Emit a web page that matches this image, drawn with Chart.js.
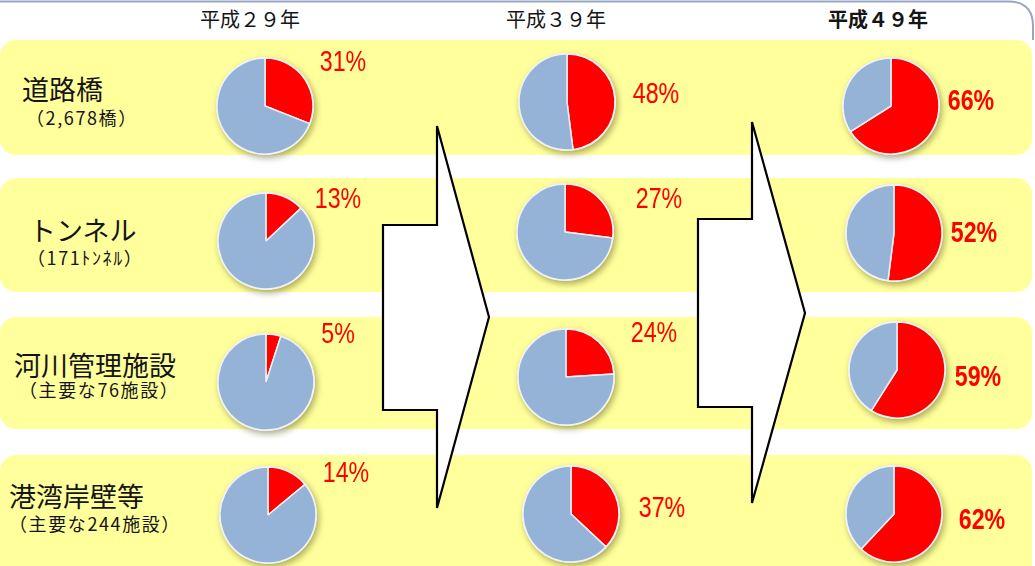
<!DOCTYPE html>
<html lang="ja">
<head>
<meta charset="utf-8">
<title>老朽化施設の割合</title>
<script src="https://cdn.jsdelivr.net/npm/chart.js@4.4.1/dist/chart.umd.min.js"></script>
<style>
    html, body { margin: 0; padding: 0; background: #fff; }
    #stage {
        position: relative;
        width: 1035px;
        height: 566px;
        overflow: hidden;
        font-family: "Noto Sans CJK JP", sans-serif;
        color: #151515;
    }
    #backdrop { position: absolute; left: 0; top: 0; }
    .pie { position: absolute; width: 124px; height: 124px; }
    .heading {
        position: absolute;
        font-size: 20px;
        line-height: 1;
        white-space: nowrap;
        transform: translate(-50%, -50%);
    }
    .heading.bold { font-weight: bold; }
    .category {
        position: absolute;
        font-size: 27px;
        line-height: 1;
        white-space: nowrap;
        transform: translateY(-50%);
    }
    .note {
        position: absolute;
        font-size: 18px;
        letter-spacing: 1.6px;
        line-height: 1;
        white-space: nowrap;
        transform: translateY(-50%);
    }
    .pct {
        position: absolute;
        color: #ff0000;
        font-family: "Liberation Sans", Arial, sans-serif;
        font-size: 29px;
        line-height: 1;
        white-space: nowrap;
        transform: translate(-50%, -50%) scaleX(0.8);
    }
    .pct.bold { font-weight: bold; }
</style>
</head>
<body>
<div id="stage">
    <svg id="backdrop" width="1035" height="566"></svg>
</div>
<script>
// Facility types and how many are counted
const categories = ['道路橋', 'トンネル', '河川管理施設', '港湾岸壁等'];
const categoryNotes = ['（2,678橋）', '（171ﾄﾝﾈﾙ）', '（主要な76施設）', '（主要な244施設）'];

// Years shown as columns
const years = ['平成２９年', '平成３９年', '平成４９年'];

// Share (%) of facilities 50 years or older, one array per year
const h29Values = [31, 13, 5, 14];
const h39Values = [48, 27, 24, 37];
const h49Values = [66, 52, 59, 62];

const seriesByYear = [h29Values, h39Values, h49Values];

// Layout
const COLORS = { old: '#ff0000', rest: '#95b3d7', band: '#ffff9c', edge: '#f2f2f2' };
const bandRows = [[40, 115], [178, 114], [317, 112], [455, 130]];
const headingPos = [[250, 19], [556, 19], [878, 19]];
const pieCenters = [
    [[265, 106], [567, 102], [891, 106]],
    [[266, 241], [565, 232], [894, 233]],
    [[266, 382], [566, 377], [897, 370]],
    [[268, 515], [571, 514], [894, 514]]
];
const pctCenters = [
    [[343, 61], [656, 93], [971, 100]],
    [[338, 198], [659, 198], [974, 232]],
    [[338, 333], [654, 332], [978, 376]],
    [[346, 472], [662, 507], [982, 519]]
];
const categoryPos = [[22, 88], [29, 229], [14, 364], [9, 495]];
const notePos = [[26, 117], [27, 257], [19, 389], [9, 523]];
const arrows = [
    '383,225 437,225 437,126 489,317 437,508 437,410 383,410',
    '698,219 752,219 752,122 805,313 752,503 752,407 698,407'
];

const stage = document.getElementById('stage');
const svg = document.getElementById('backdrop');
const SVG_NS = 'http://www.w3.org/2000/svg';

const svgEl = (tag, attrs) => {
    const el = document.createElementNS(SVG_NS, tag);
    Object.entries(attrs).forEach(([k, v]) => el.setAttribute(k, v));
    svg.appendChild(el);
    return el;
};

const addText = (cls, text, x, y) => {
    const div = document.createElement('div');
    div.className = cls;
    div.textContent = text;
    div.style.left = x + 'px';
    div.style.top = y + 'px';
    stage.appendChild(div);
    return div;
};

// Outer frame (top edge with rounded corner on the right)
svgEl('path', {
    d: 'M -5 1.5 H 1008 Q 1033 1.5 1033 26 V 40',
    fill: 'none', stroke: '#98a6c4', 'stroke-width': 2
});

// Yellow bands, one per facility type
bandRows.forEach(([y, h]) => {
    svgEl('rect', { x: 0, y, width: 1032, height: h, rx: 16, ry: 16, fill: COLORS.band });
});

// Arrows between the years
arrows.forEach(points => {
    svgEl('polygon', {
        points, fill: '#ffffff', stroke: '#000000',
        'stroke-width': 2.2, 'stroke-linejoin': 'miter'
    });
});

// Soft shadow under each pie
const pieShadow = {
    id: 'pieShadow',
    beforeDatasetsDraw: (chart) => {
        const arc = chart.getDatasetMeta(0).data[0];
        if (!arc) return;
        const { x, y, outerRadius } = arc.getProps(['x', 'y', 'outerRadius'], true);
        const ctx = chart.ctx;
        ctx.save();
        ctx.shadowColor = 'rgba(70, 70, 10, 0.45)';
        ctx.shadowBlur = 6;
        ctx.shadowOffsetX = 2;
        ctx.shadowOffsetY = 3;
        ctx.beginPath();
        ctx.arc(x, y, outerRadius + 1, 0, Math.PI * 2);
        ctx.fillStyle = COLORS.edge;
        ctx.fill();
        ctx.restore();
    }
};

const makePie = (value, cx, cy) => {
    const canvas = document.createElement('canvas');
    canvas.className = 'pie';
    canvas.width = 124;
    canvas.height = 124;
    canvas.style.left = (cx - 62) + 'px';
    canvas.style.top = (cy - 62) + 'px';
    stage.appendChild(canvas);

    return new Chart(canvas, {
        type: 'pie',
        data: {
            labels: ['50年以上', 'その他'],
            datasets: [{
                data: [value, 100 - value],
                backgroundColor: [COLORS.old, COLORS.rest],
                borderColor: COLORS.edge,
                borderWidth: 1.5,
                radius: 48
            }]
        },
        options: {
            responsive: false,
            animation: false,
            events: [],
            layout: { padding: 0 },
            plugins: {
                legend: { display: false },
                tooltip: { enabled: false }
            }
        },
        plugins: [pieShadow]
    });
};

// Column headings
years.forEach((year, col) => {
    const el = addText('heading', year, headingPos[col][0], headingPos[col][1]);
    if (col === 2) el.classList.add('bold');
});

// Row labels
categories.forEach((name, row) => {
    addText('category', name, categoryPos[row][0], categoryPos[row][1]);
    addText('note', categoryNotes[row], notePos[row][0], notePos[row][1]);
});

// Pies and their percentage labels
seriesByYear.forEach((values, col) => {
    values.forEach((value, row) => {
        const [cx, cy] = pieCenters[row][col];
        makePie(value, cx, cy);
        const [lx, ly] = pctCenters[row][col];
        const label = addText('pct', value + '%', lx, ly);
        if (col === 2) label.classList.add('bold');
    });
});
</script>
</body>
</html>
